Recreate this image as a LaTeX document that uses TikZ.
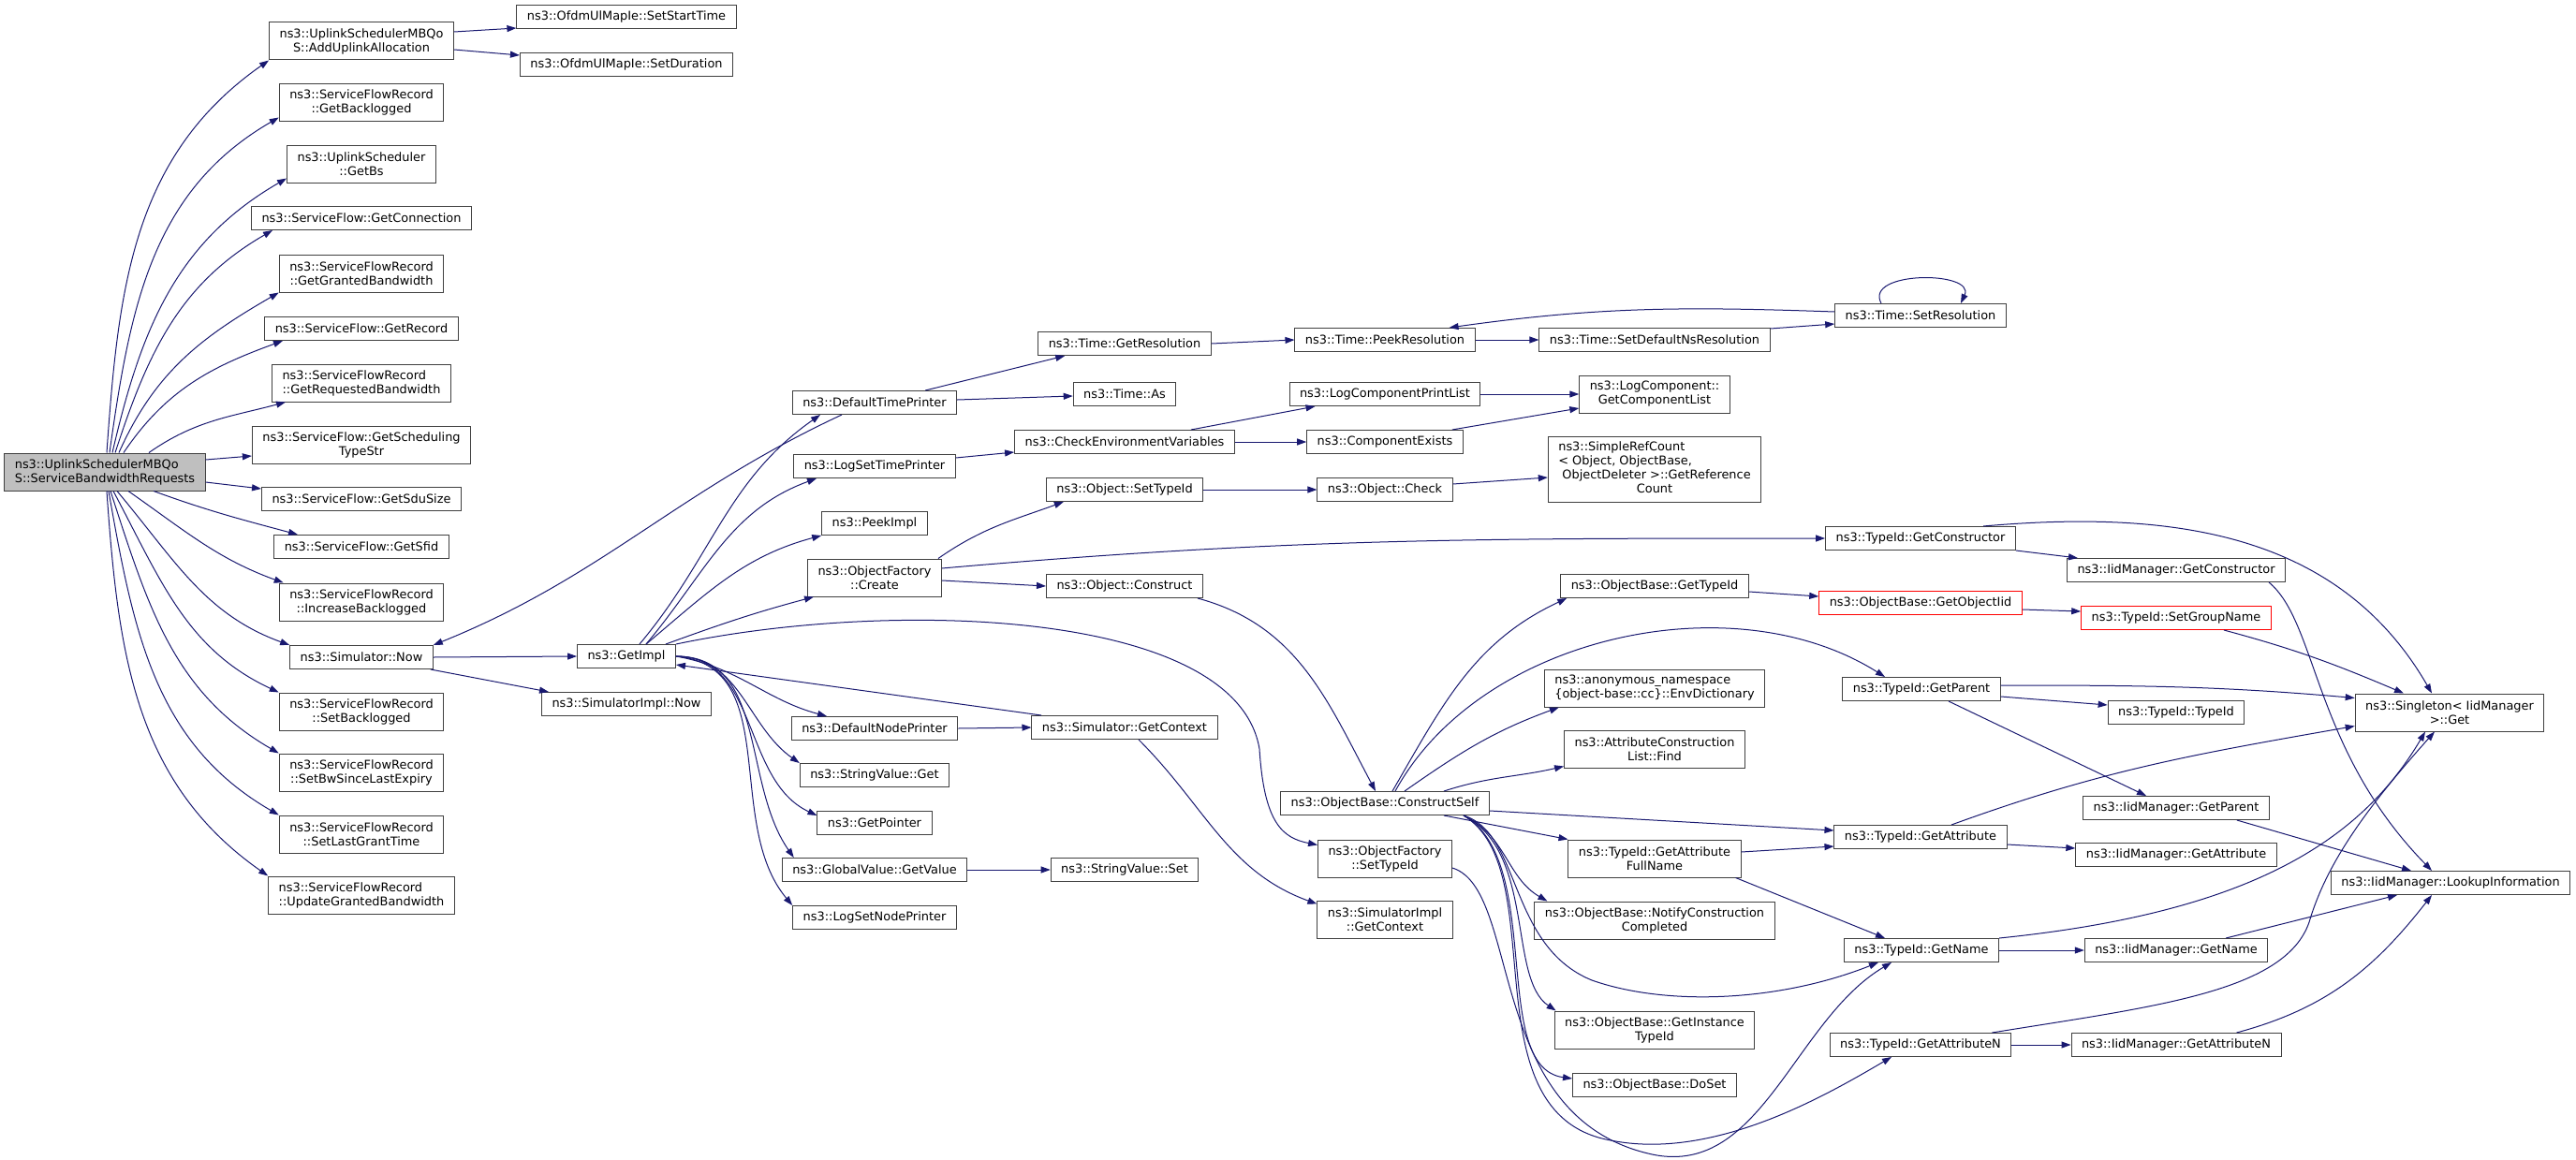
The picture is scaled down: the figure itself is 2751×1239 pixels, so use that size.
\documentclass[tikz,border=0pt]{standalone}
\usepackage{fontspec}
\setmainfont{DejaVu Sans}
\usepackage{xcolor}
\usetikzlibrary{
  arrows.meta,
  positioning,
}
\definecolor{edgeblue}{HTML}{191970}
\definecolor{boxgrey}{HTML}{404040}
\definecolor{rootgrey}{HTML}{BFBFBF}
\newcommand{\fnfont}{\fontsize{12.9}{15}\selectfont}
\tikzset{
  fn box/.style={
    draw=boxgrey,
    line width=1pt,
    fill=white,
    rectangle,
    inner xsep=11pt,
    inner ysep=6pt,
    minimum height=25pt,
    align=center,
    font=\fnfont
  },
  dbl/.style={
    minimum height=40pt
  },
  root box/.style={
    fn box,
    dbl,
    fill=rootgrey,
    align=left
  },
  cut box/.style={
    fn box,
    draw=red
  },
  call/.style={
    draw=edgeblue,
    line width=1pt,
    -{Triangle[length=10pt,width=7pt]}
  }
}

\begin{document}
\begin{tikzpicture}[x=1pt, y=-1pt]
  \useasboundingbox (0,0) rectangle (2751,1239);

  \node[root box] (root) at (112,504) {ns3::UplinkSchedulerMBQo\\S::ServiceBandwidthRequests};

  %% direct callees
  \node[fn box, dbl] (aua)   at (386,44)  {ns3::UplinkSchedulerMBQo\\S::AddUplinkAllocation};
  \node[fn box, dbl] (gbl)   at (386,109) {ns3::ServiceFlowRecord\\::GetBacklogged};
  \node[fn box, dbl] (gbs)   at (386,175) {ns3::UplinkScheduler\\::GetBs};
  \node[fn box]      (gcon)  at (386,233) {ns3::ServiceFlow::GetConnection};
  \node[fn box, dbl] (ggb)   at (386,292) {ns3::ServiceFlowRecord\\::GetGrantedBandwidth};
  \node[fn box]      (grec)  at (386,351) {ns3::ServiceFlow::GetRecord};
  \node[fn box, dbl, align=left] (grb) at (386,409) {ns3::ServiceFlowRecord\\::GetRequestedBandwidth};
  \node[fn box, dbl] (gsts)  at (386,475) {ns3::ServiceFlow::GetScheduling\\TypeStr};
  \node[fn box]      (gsdu)  at (386,533) {ns3::ServiceFlow::GetSduSize};
  \node[fn box]      (gsfid) at (386,584) {ns3::ServiceFlow::GetSfid};
  \node[fn box, dbl] (incb)  at (386,643) {ns3::ServiceFlowRecord\\::IncreaseBacklogged};
  \node[fn box]      (now)   at (386,702) {ns3::Simulator::Now};
  \node[fn box, dbl] (setb)  at (386,760) {ns3::ServiceFlowRecord\\::SetBacklogged};
  \node[fn box, dbl] (sbw)   at (386,825) {ns3::ServiceFlowRecord\\::SetBwSinceLastExpiry};
  \node[fn box, dbl] (slgt)  at (386,891) {ns3::ServiceFlowRecord\\::SetLastGrantTime};
  \node[fn box, dbl, align=left] (ugb) at (386,956) {ns3::ServiceFlowRecord\\::UpdateGrantedBandwidth};

  \node[fn box] (sst)   at (669,18)  {ns3::OfdmUlMapIe::SetStartTime};
  \node[fn box] (sdur)  at (669,69)  {ns3::OfdmUlMapIe::SetDuration};
  \node[fn box] (gimpl) at (669,701) {ns3::GetImpl};
  \node[fn box] (sinow) at (669,752) {ns3::SimulatorImpl::Now};

  %% GetImpl
  \node[fn box]      (dtp)  at (934,430) {ns3::DefaultTimePrinter};
  \node[fn box]      (lstp) at (934,498) {ns3::LogSetTimePrinter};
  \node[fn box]      (peek) at (934,559) {ns3::PeekImpl};
  \node[fn box, dbl] (ofc)  at (934,617) {ns3::ObjectFactory\\::Create};
  \node[fn box]      (dnp)  at (934,778) {ns3::DefaultNodePrinter};
  \node[fn box]      (svg)  at (934,828) {ns3::StringValue::Get};
  \node[fn box]      (gptr) at (934,879) {ns3::GetPointer};
  \node[fn box]      (gval) at (934,929) {ns3::GlobalValue::GetValue};
  \node[fn box]      (lsnp) at (934,980) {ns3::LogSetNodePrinter};

  \node[fn box] (tgres) at (1201,367) {ns3::Time::GetResolution};
  \node[fn box] (tas)   at (1201,421) {ns3::Time::As};
  \node[fn box] (cenv)  at (1201,472) {ns3::CheckEnvironmentVariables};
  \node[fn box] (ostid) at (1201,523) {ns3::Object::SetTypeId};
  \node[fn box] (ocons) at (1201,626) {ns3::Object::Construct};
  \node[fn box] (sgctx) at (1201,777) {ns3::Simulator::GetContext};
  \node[fn box] (svs)   at (1201,929) {ns3::StringValue::Set};

  \node[fn box]      (tpres)  at (1479,363) {ns3::Time::PeekResolution};
  \node[fn box]      (lcpl)   at (1479,421) {ns3::LogComponentPrintList};
  \node[fn box]      (cex)    at (1479,472) {ns3::ComponentExists};
  \node[fn box]      (ochk)   at (1479,523) {ns3::Object::Check};
  \node[fn box]      (cself)  at (1479,858) {ns3::ObjectBase::ConstructSelf};
  \node[fn box, dbl] (oftid)  at (1479,917) {ns3::ObjectFactory\\::SetTypeId};
  \node[fn box, dbl] (sigctx) at (1479,982) {ns3::SimulatorImpl\\::GetContext};

  %% ConstructSelf
  \node[fn box]      (tsdns)  at (1767,363) {ns3::Time::SetDefaultNsResolution};
  \node[fn box, dbl] (gclist) at (1767,421) {ns3::LogComponent::\\GetComponentList};
  \node[fn box, inner ysep=5pt] (srefc) at (1767,501) {\begin{tabular}{@{}l@{}}ns3::SimpleRefCount\\< Object, ObjectBase,\\\ ObjectDeleter >::GetReference\\\multicolumn{1}{@{}c@{}}{Count}\end{tabular}};
  \node[fn box]      (obgtid) at (1767,626) {ns3::ObjectBase::GetTypeId};
  \node[fn box, dbl, align=left] (envd) at (1767,735) {ns3::anonymous\_namespace\\\{object-base::cc\}::EnvDictionary};
  \node[fn box, dbl] (acfind) at (1767,800) {ns3::AttributeConstruction\\List::Find};
  \node[fn box, dbl] (tgafn)  at (1767,917) {ns3::TypeId::GetAttribute\\FullName};
  \node[fn box, dbl] (ncc)    at (1767,983) {ns3::ObjectBase::NotifyConstruction\\Completed};
  \node[fn box, dbl] (gitid)  at (1767,1100) {ns3::ObjectBase::GetInstance\\TypeId};
  \node[fn box]      (doset)  at (1767,1159) {ns3::ObjectBase::DoSet};

  \node[fn box]  (tsres)   at (2051,337)  {ns3::Time::SetResolution};
  \node[fn box]  (tgctor)  at (2051,575)  {ns3::TypeId::GetConstructor};
  \node[cut box] (goiid)   at (2051,644)  {ns3::ObjectBase::GetObjectIid};
  \node[fn box]  (tgpar)   at (2052,736)  {ns3::TypeId::GetParent};
  \node[fn box]  (tgattr)  at (2051,894)  {ns3::TypeId::GetAttribute};
  \node[fn box]  (tgname)  at (2052,1015) {ns3::TypeId::GetName};
  \node[fn box]  (tgattrn) at (2051,1116) {ns3::TypeId::GetAttributeN};

  %% IidManager
  \node[fn box]  (igctor)  at (2324,609)  {ns3::IidManager::GetConstructor};
  \node[cut box] (sgname)  at (2324,660)  {ns3::TypeId::SetGroupName};
  \node[fn box]  (ttid)    at (2324,761)  {ns3::TypeId::TypeId};
  \node[fn box]  (igpar)   at (2324,863)  {ns3::IidManager::GetParent};
  \node[fn box]  (igattr)  at (2324,913)  {ns3::IidManager::GetAttribute};
  \node[fn box]  (igname)  at (2324,1015) {ns3::IidManager::GetName};
  \node[fn box]  (igattrn) at (2324,1116) {ns3::IidManager::GetAttributeN};

  \node[fn box, dbl] (sget)   at (2616,761) {ns3::Singleton< IidManager\\>::Get};
  \node[fn box]      (lookup) at (2617,943) {ns3::IidManager::LookupInformation};

  %% edges from the root
  \draw[call] ([xshift=2pt]root.north)  to[out=86, in=215] (aua.south west);
  \draw[call] ([xshift=5pt]root.north)  to[out=82, in=210] ([yshift=4pt]gbl.south west);
  \draw[call] ([xshift=8pt]root.north)  to[out=77, in=210] ([yshift=5pt]gbs.south west);
  \draw[call] ([xshift=11pt]root.north) to[out=72, in=210] ([xshift=-95pt]gcon.south);
  \draw[call] ([xshift=15pt]root.north) to[out=66, in=210] (ggb.south west);
  \draw[call] ([xshift=20pt]root.north) to[out=56, in=200] ([xshift=-84pt]grec.south);
  \draw[call] ([xshift=47pt]root.north) to[out=35, in=195] ([xshift=-81pt]grb.south);
  \draw[call] ([yshift=13pt]root.east) -- ([yshift=-12pt]gsts.west);
  \draw[call] ([yshift=-11pt]root.east) -- ([yshift=11pt]gsdu.west);
  \draw[call] ([xshift=52pt]root.south) to[out=-20, in=165] ([xshift=-68pt]gsfid.north);
  \draw[call] ([xshift=25pt]root.south) to[out=-35, in=160] ([xshift=5pt]incb.north west);
  \draw[call] ([xshift=13pt]root.south) to[out=-50, in=160] (now.north west);
  \draw[call] ([xshift=9pt]root.south)  to[out=-62, in=155] (setb.north west);
  \draw[call] ([xshift=6pt]root.south)  to[out=-72, in=150] (sbw.north west);
  \draw[call] ([xshift=4pt]root.south)  to[out=-80, in=150] (slgt.north west);
  \draw[call] ([xshift=2pt]root.south)  to[out=-86, in=145] (ugb.north west);

  \draw[call] ([yshift=10pt]aua.east) -- ([yshift=1pt]sst.south west);
  \draw[call] ([yshift=-9pt]aua.east) -- ([yshift=-3pt]sdur.north west);

  %% Simulator::Now and GetImpl
  \draw[call] (now.east) -- (gimpl.west);
  \draw[call] ([xshift=-3pt]now.south east) -- ([xshift=8pt]sinow.north west);
  \draw[call] ([xshift=-35pt]dtp.south) to[out=205, in=22] (now.north east);
  \draw[call] ([xshift=14pt]gimpl.north) to[out=50, in=215] ([xshift=-58pt]dtp.south);
  \draw[call] ([xshift=21pt]gimpl.north) to[out=50, in=200] ([xshift=-62pt]lstp.south);
  \draw[call] ([xshift=21pt]gimpl.north) to[out=40, in=195] (peek.south west);
  \draw[call] ([xshift=42pt]gimpl.north) to[out=20, in=195] ([xshift=7pt]ofc.south west);
  \draw[call] (gimpl.north east) .. controls (950,640) and (1320,650) .. (1345,800)
    .. controls (1350,880) and (1370,895) .. ([yshift=-6pt]oftid.north west);
  \draw[call] ([xshift=-89pt]sgctx.north) -- ([yshift=4pt]gimpl.south east);
  \draw[call] (gimpl.east) to[out=-10, in=165] ([xshift=-51pt]dnp.north);
  \draw[call] (gimpl.east) to[out=0, in=145] (svg.north west);
  \draw[call] (gimpl.east) to[out=0, in=155] ([yshift=-5pt]gptr.north west);
  \draw[call] (gimpl.east) to[out=0, in=125] ([xshift=13pt]gval.north west);
  \draw[call] (gimpl.east) to[out=-5, in=130] (lsnp.north west);

  \draw[call] (dnp.east) -- (sgctx.west);
  \draw[call] (gval.east) -- (svs.west);
  \draw[call] ([xshift=15pt]sgctx.south) to[out=-45, in=160] ([yshift=-4pt]sigctx.north west);

  \draw[call] ([xshift=-34pt]dtp.north east) -- ([xshift=29pt]tgres.south west);
  \draw[call] ([yshift=3pt]dtp.east) -- ([yshift=-2pt]tas.west);
  \draw[call] ([yshift=9pt]lstp.east) -- ([yshift=2pt]cenv.south west);
  \draw[call] ([xshift=-4pt]ofc.north east) to[out=35, in=200] ([xshift=19pt]ostid.south west);
  \draw[call] ([yshift=10pt]ofc.east) to[out=5, in=180] (tgctor.west);
  \draw[call] ([yshift=-3pt]ofc.east) -- (ocons.west);
  \draw[call] ([xshift=-6pt]ocons.south east) to[out=-15, in=118] ([xshift=-10pt]cself.north);

  %% Time
  \draw[call] (tgres.east) -- (tpres.west);
  \draw[call] (tpres.east) -- (tsdns.west);
  \draw[call] ([yshift=-1pt]tsdns.north east) -- ([yshift=4pt]tsres.south west);
  \draw[call] ([yshift=4pt]tsres.west) to[out=178, in=8] ([xshift=-28pt]tpres.north east);
  \draw[call] ([xshift=-42pt]tsres.north) .. controls +(-19,-35) and +(16,-35) .. ([xshift=43pt]tsres.north);

  \draw[call] ([xshift=-47pt]cenv.north east) -- ([xshift=28pt]lcpl.south west);
  \draw[call] (cenv.east) -- (cex.west);
  \draw[call] (lcpl.east) -- (gclist.west);
  \draw[call] ([xshift=-12pt]cex.north east) -- ([yshift=-15pt]gclist.west);
  \draw[call] (ostid.east) -- (ochk.west);
  \draw[call] ([yshift=6pt]ochk.east) -- ([yshift=-9pt]srefc.west);

  \draw[call] ([xshift=67pt]tgctor.north) to[out=5, in=120] ([xshift=-19pt]sget.north);
  \draw[call] (tgctor.south east) -- ([xshift=12pt]igctor.north west);
  \draw[call] ([xshift=-18pt]igctor.south east) .. controls (2475,665) and (2470,800) .. ([xshift=-20pt]lookup.north);

  %% ConstructSelf
  \draw[call] ([xshift=8pt]cself.north) to[out=60, in=205] ([xshift=7pt]obgtid.south west);
  \draw[call] ([xshift=11pt]cself.north) .. controls (1580,680) and (1850,620) .. ([xshift=-39pt]tgpar.north);
  \draw[call] ([xshift=21pt]cself.north) to[out=35, in=200] ([xshift=16pt]envd.south west);
  \draw[call] ([xshift=63pt]cself.north) to[out=18, in=193] ([yshift=2pt]acfind.south west);
  \draw[call] ([yshift=-8pt]cself.east) -- ([yshift=7pt]tgattr.west);
  \draw[call] ([xshift=63pt]cself.south) -- (tgafn.north west);
  \draw[call] ([xshift=84pt]cself.south) to[out=-25, in=150] ([xshift=14pt]ncc.north west);
  \draw[call] ([xshift=84pt]cself.south) .. controls (1625,890) and (1610,1010) .. (1700,1047)
    .. controls (1780,1075) and (1900,1070) .. ([xshift=37pt]tgname.south west);
  \draw[call] ([xshift=84pt]cself.south) .. controls (1640,910) and (1610,1045) .. ([xshift=2pt]gitid.north west);
  \draw[call] ([xshift=84pt]cself.south) .. controls (1650,920) and (1590,1140) .. ([yshift=-6pt]doset.north west);
  \draw[call] ([xshift=84pt]cself.south) .. controls (1660,930) and (1565,1190) .. (1720,1218)
    .. controls (1830,1240) and (1950,1170) .. ([xshift=-31pt]tgattrn.south);
  \draw[call] ([yshift=-10pt]oftid.east) .. controls (1625,950) and (1585,1190) .. (1760,1232)
    .. controls (1880,1262) and (1915,1090) .. ([xshift=-32pt]tgname.south);

  \draw[call] ([yshift=-6pt]obgtid.east) -- ([yshift=7pt]goiid.west);
  \draw[call] ([yshift=-7pt]goiid.east) -- ([yshift=7pt]sgname.west);
  \draw[call] ([xshift=51pt]sgname.south) to[out=-15, in=157] ([xshift=-49pt]sget.north);
  \draw[call] ([yshift=4pt]tgpar.east) to[out=0, in=175] ([yshift=-5pt]sget.north west);
  \draw[call] ([yshift=-8pt]tgpar.east) -- ([yshift=-5pt]ttid.north west);
  \draw[call] ([xshift=29pt]tgpar.south) -- ([xshift=-32pt]igpar.north);
  \draw[call] ([xshift=33pt]tgattr.north) to[out=20, in=190] ([yshift=6pt]sget.south west);
  \draw[call] ([yshift=-8pt]tgattr.east) -- ([yshift=7pt]igattr.west);
  \draw[call] ([yshift=7pt]tgafn.east) -- ([yshift=-10pt]tgattr.west);
  \draw[call] ([xshift=-6pt]tgafn.south east) -- ([xshift=-39pt]tgname.north);
  \draw[call] (tgname.north east) .. controls (2400,975) and (2520,900) .. ([xshift=-26pt]sget.south);
  \draw[call] (tgname.east) -- (igname.west);
  \draw[call] ([xshift=-21pt]tgattrn.north east) .. controls (2300,1075) and (2440,1060) .. (2466,985)
    .. controls (2485,920) and (2530,860) .. ([xshift=-16pt]sget.south);
  \draw[call] (tgattrn.east) -- (igattrn.west);

  %% LookupInformation
  \draw[call] ([xshift=-35pt]igpar.south east) -- ([xshift=-42pt]lookup.north);
  \draw[call] ([xshift=-45pt]igname.north east) -- ([xshift=-57pt]lookup.south);
  \draw[call] ([xshift=-48pt]igattrn.north east) to[out=15, in=232] ([xshift=-20pt]lookup.south);
\end{tikzpicture}
\end{document}
